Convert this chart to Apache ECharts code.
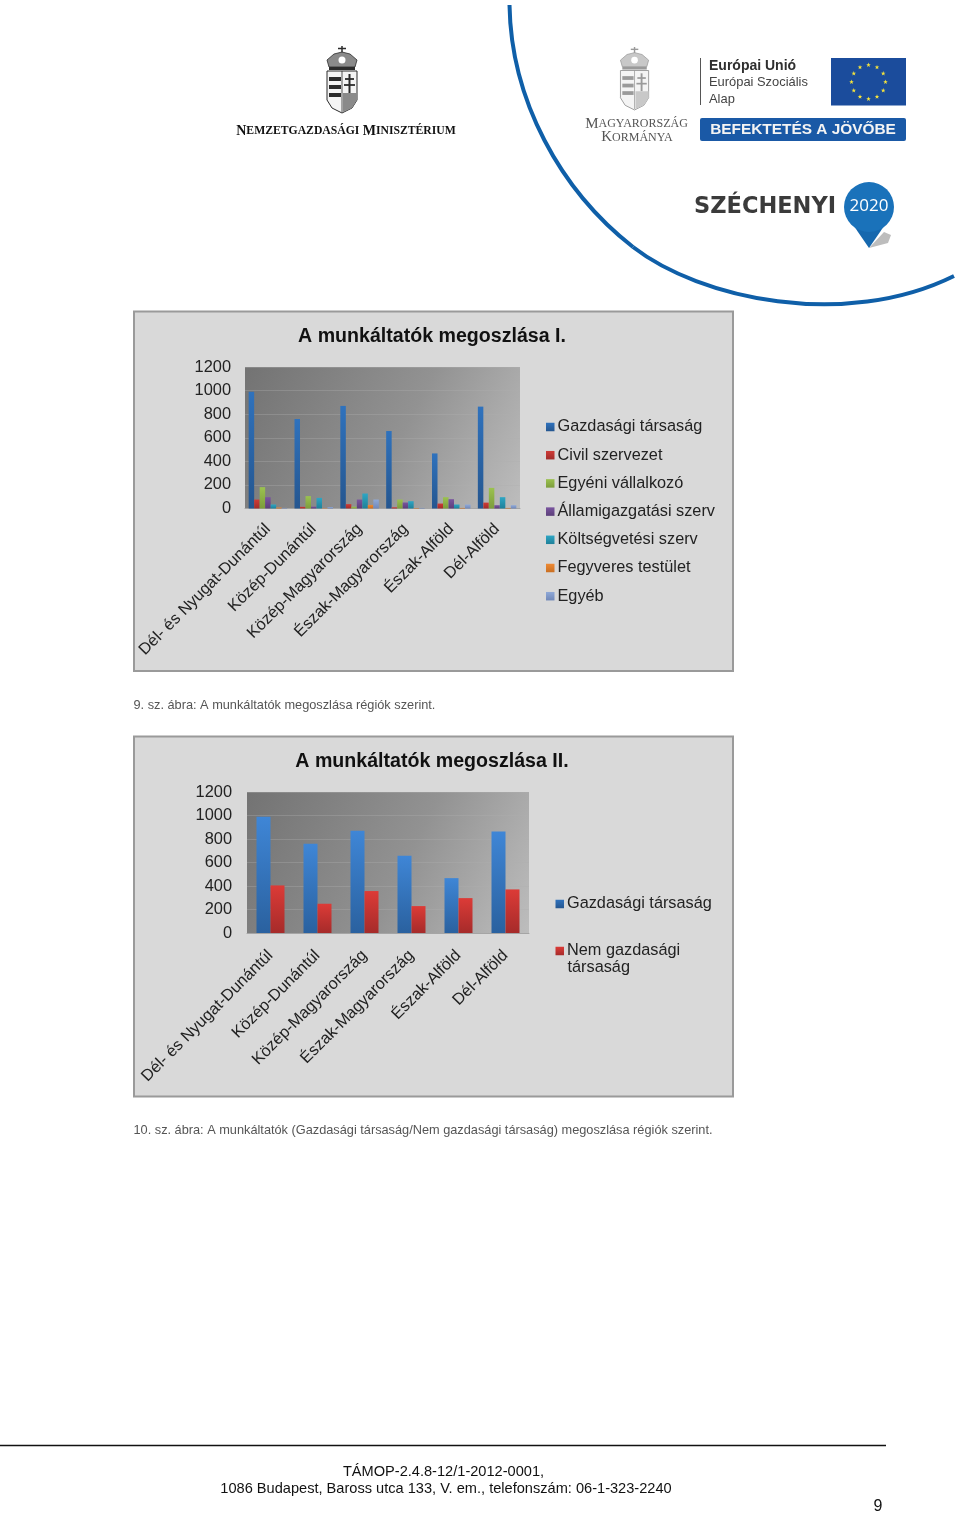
<!DOCTYPE html>
<html>
<head>
<meta charset="utf-8">
<title>A munkáltatók megoszlása</title>
<script src="https://cdn.jsdelivr.net/npm/echarts@6/dist/echarts.min.js"></script>
<style>
  html, body { margin: 0; padding: 0; background: #fff; }
  #main { width: 960px; height: 1514px; }
</style>
</head>
<body>
<div id="main"></div>
<script>
const regions = ["Dél- és Nyugat-Dunántúl", "Közép-Dunántúl", "Közép-Magyarország", "Észak-Magyarország", "Észak-Alföld", "Dél-Alföld"];
const yTicks = [0, 200, 400, 600, 800, 1000, 1200];

// első ábra
const gazdasagi = [990, 759, 870, 657, 467, 864];
const civil = [76, 14, 37, 10, 42, 50];
const egyeni = [181, 105, 15, 76, 96, 175];
const allami = [96, 16, 76, 51, 79, 28];
const koltsegvetesi = [34, 90, 127, 62, 34, 96];
const fegyveres = [8, 3, 30, 4, 5, 5];
const egyeb = [5, 12, 76, 5, 34, 28];

// második ábra
const nemGazdasagi = [405, 249, 357, 229, 297, 371];

const firstNames = ["Gazdasági társaság", "Civil szervezet", "Egyéni vállalkozó", "Államigazgatási szerv", "Költségvetési szerv", "Fegyveres testület", "Egyéb"];
const firstValues = [gazdasagi, civil, egyeni, allami, koltsegvetesi, fegyveres, egyeb];
const firstColors = [["#2f72bd", "#25568f"], ["#cf3a36", "#a02c2a"], ["#9bc24f", "#7c9c3c"], ["#7a559f", "#5c3f7a"], ["#2ea6c4", "#1f8099"], ["#ee8a34", "#c96f22"], ["#8fa9d8", "#7188b8"]];
const secondNames = ["Gazdasági társaság", "Nem gazdasági társaság"];
const secondValues = [gazdasagi, nemGazdasagi];
const secondColors = [["#3f86d6", "#2a619f"], ["#dc3b37", "#a62b2a"]];

const FONT = '"Liberation Sans", Arial, sans-serif';
const SERIF = '"Liberation Serif", serif';
const G = echarts.graphic;

function vgrad(c) {
  return new G.LinearGradient(0, 0, 0, 1, [{ offset: 0, color: c[0] }, { offset: 1, color: c[1] }]);
}
function plotBg() {
  return new G.LinearGradient(0, 0, 1, 1, [{ offset: 0, color: "#737373" }, { offset: 0.55, color: "#929292" }, { offset: 1, color: "#bdbdbd" }]);
}
function txt(x, y, text, size, color, extra) {
  return {
    type: "text", x: x, y: y, z: 5,
    style: Object.assign({ text: text, font: size + "px " + FONT, fill: color, textVerticalAlign: "middle" }, extra || {})
  };
}
function xAxis(gridIndex, margin) {
  return {
    type: "category", gridIndex: gridIndex, data: regions,
    axisTick: { show: false },
    axisLine: { lineStyle: { color: "#a5a5a5" } },
    axisLabel: { rotate: 45, interval: 0, margin: margin, fontFamily: FONT, fontSize: 16.3, color: "#222" }
  };
}
function yAxis(gridIndex, margin) {
  return {
    type: "value", gridIndex: gridIndex, min: yTicks[0], max: yTicks[yTicks.length - 1], interval: yTicks[1],
    axisLine: { show: false }, axisTick: { show: false },
    axisLabel: { margin: margin, fontFamily: FONT, fontSize: 16.4, color: "#222", formatter: function (v) { return String(v); } },
    splitLine: { lineStyle: { color: "rgba(175,175,175,0.35)" } }
  };
}
function legend(names, left, top, gap) {
  return {
    data: names, orient: "vertical", left: left, top: top, itemGap: gap, padding: 0,
    itemWidth: 8.5, itemHeight: 8.5, icon: "rect", selectedMode: false,
    formatter: function (n) { return n === "Nem gazdasági társaság" ? "Nem gazdasági" : n; },
    textStyle: { fontFamily: FONT, fontSize: 16.3, color: "#222", padding: [0, 0, 0, -2] }
  };
}

// címer, logókhoz
function coat(x, y, s, dark, mid) {
  const stripes = [];
  [31, 39, 47].forEach(function (sy) {
    stripes.push({ type: "rect", shape: { x: 3, y: sy, width: 12, height: 4 }, style: { fill: dark } });
  });
  return {
    type: "group", x: x, y: y, scaleX: s, scaleY: s, z: 5,
    children: [
      { type: "line", shape: { x1: 16, y1: 0, x2: 16, y2: 7 }, style: { stroke: dark, lineWidth: 1.5 } },
      { type: "line", shape: { x1: 12, y1: 2.5, x2: 20, y2: 2.5 }, style: { stroke: dark, lineWidth: 1.5 } },
      { type: "polygon", shape: { points: [[3, 21], [1, 14], [8, 8], [16, 6], [24, 8], [31, 14], [29, 21]] }, style: { fill: mid, stroke: dark, lineWidth: 0.8 } },
      { type: "circle", shape: { cx: 16, cy: 14, r: 3.5 }, style: { fill: "#fff" } },
      { type: "rect", shape: { x: 3, y: 21, width: 26, height: 3 }, style: { fill: dark } },
      { type: "polygon", shape: { points: [[1, 25], [31, 25], [31, 54], [26, 62], [16, 67], [6, 62], [1, 54]] }, style: { fill: "#f4f4f4", stroke: dark, lineWidth: 1 } }
    ].concat(stripes, [
      { type: "line", shape: { x1: 16, y1: 25, x2: 16, y2: 66 }, style: { stroke: dark, lineWidth: 0.8 } },
      { type: "line", shape: { x1: 23.5, y1: 28, x2: 23.5, y2: 47 }, style: { stroke: dark, lineWidth: 2 } },
      { type: "line", shape: { x1: 19, y1: 33, x2: 28, y2: 33 }, style: { stroke: dark, lineWidth: 1.8 } },
      { type: "line", shape: { x1: 18, y1: 39, x2: 29, y2: 39 }, style: { stroke: dark, lineWidth: 1.8 } },
      { type: "polygon", shape: { points: [[17, 47], [31, 47], [31, 54], [26, 62], [17, 66]] }, style: { fill: mid } }
    ])
  };
}
function star(cx, cy, r) {
  const pts = [];
  for (let i = 0; i < 10; i++) {
    const a = -Math.PI / 2 + i * Math.PI / 5;
    const d = i % 2 ? r * 0.42 : r;
    pts.push([cx + d * Math.cos(a), cy + d * Math.sin(a)]);
  }
  return { type: "polygon", z: 6, shape: { points: pts }, style: { fill: "#f4e23c" } };
}
function euStars(cx, cy, R) {
  const out = [];
  for (let i = 0; i < 12; i++) {
    const a = i * Math.PI / 6;
    out.push(star(cx + R * Math.cos(a), cy + R * Math.sin(a), 2.4));
  }
  return out;
}
function panel(y, h) {
  return { type: "rect", z: -10, shape: { x: 134, y: y, width: 599, height: h }, style: { fill: "#d9d9d9", stroke: "#9a9a9a", lineWidth: 2 } };
}

const series = [];
firstNames.forEach(function (name, i) {
  series.push({
    name: name, type: "bar", xAxisIndex: 0, yAxisIndex: 0, data: firstValues[i],
    barWidth: 5.5, barGap: 0, barCategoryGap: "16%",
    itemStyle: { color: vgrad(firstColors[i]) }
  });
});
secondNames.forEach(function (name, i) {
  series.push({
    name: name, type: "bar", xAxisIndex: 1, yAxisIndex: 1, data: secondValues[i],
    barWidth: 14, barGap: 0, barCategoryGap: "40%",
    itemStyle: { color: vgrad(secondColors[i]) }
  });
});

const graphics = [
  panel(311.5, 359.5),
  panel(736.5, 360),

  // fejléc, bal oldal
  coat(326, 46, 1, "#2b2b2b", "#8a8a8a"),
  {
    type: "text", x: 346, y: 131, z: 5,
    style: {
      text: "{a|N}{b|EMZETGAZDASÁGI} {a|M}{b|INISZTÉRIUM}",
      align: "center", verticalAlign: "middle", fill: "#111",
      rich: {
        a: { font: "bold 14px " + SERIF, fill: "#111" },
        b: { font: "bold 11.7px " + SERIF, fill: "#111" }
      }
    }
  },

  // fejléc, jobb oldal
  { type: "bezierCurve", z: 4, shape: { x1: 509.5, y1: 5, cpx1: 511, cpy1: 100, cpx2: 560, cpy2: 190, x2: 633, y2: 247 }, style: { stroke: "#0f5fa8", lineWidth: 4, fill: "none" } },
  { type: "bezierCurve", z: 4, shape: { x1: 633, y1: 247, cpx1: 700, cpy1: 299, cpx2: 845, cpy2: 330, x2: 954, y2: 276 }, style: { stroke: "#0f5fa8", lineWidth: 4, fill: "none" } },
  coat(619.5, 47, 0.94, "#9a9a9a", "#c8c8c8"),
  {
    type: "text", x: 636.5, y: 124, z: 5,
    style: {
      text: "{a|M}{b|AGYARORSZÁG}", align: "center", verticalAlign: "middle", fill: "#555",
      rich: { a: { font: "15px " + SERIF, fill: "#555" }, b: { font: "12px " + SERIF, fill: "#555" } }
    }
  },
  {
    type: "text", x: 637, y: 137.5, z: 5,
    style: {
      text: "{a|K}{b|ORMÁNYA}", align: "center", verticalAlign: "middle", fill: "#555",
      rich: { a: { font: "15px " + SERIF, fill: "#555" }, b: { font: "12px " + SERIF, fill: "#555" } }
    }
  },
  { type: "line", z: 5, shape: { x1: 700.5, y1: 58, x2: 700.5, y2: 105 }, style: { stroke: "#555", lineWidth: 1 } },
  txt(709, 66, "Európai Unió", 14, "#2f2f2f", { font: "bold 14px " + FONT }),
  txt(709, 82.5, "Európai Szociális", 12.9, "#444"),
  txt(709, 99, "Alap", 12.9, "#444"),
  { type: "rect", z: 5, shape: { x: 831, y: 58, width: 75, height: 47.5 }, style: { fill: "#1b4c9c" } }
].concat(euStars(868.5, 82, 17), [
  { type: "rect", z: 5, shape: { x: 700, y: 118, width: 206, height: 23, r: 2 }, style: { fill: "#1a59a6" } },
  txt(803, 130, "BEFEKTETÉS A JÖVŐBE", 15.4, "#f4f4f4", { font: "bold 15.4px " + FONT, align: "center", textAlign: "center" }),
  txt(694, 207, "SZÉCHENYI", 22.5, "#3b3b3b", { font: 'bold 22.5px "DejaVu Sans", sans-serif' }),
  { type: "polygon", z: 4, shape: { points: [[869, 248], [884, 232], [891, 235], [888, 243]] }, style: { fill: "#bdbdbd" } },
  { type: "polygon", z: 5, shape: { points: [[845, 213], [869, 248], [893, 213]] }, style: { fill: "#1668ae" } },
  { type: "circle", z: 5, shape: { cx: 869, cy: 207, r: 25 }, style: { fill: "#1a72ba" } },
  txt(869, 206, "2020", 17, "#fff", { font: '17px "Open Sans", sans-serif', align: "center", textAlign: "center" }),

  // képaláírások
  txt(133.5, 705, "9. sz. ábra: A munkáltatók megoszlása régiók szerint.", 12.75, "#555"),
  txt(133.5, 1130, "10. sz. ábra: A munkáltatók (Gazdasági társaság/Nem gazdasági társaság) megoszlása régiók szerint.", 12.75, "#555"),
  txt(567.5, 968, "társaság", 16.3, "#222"),

  // lábléc
  { type: "line", z: 5, shape: { x1: 0, y1: 1445.5, x2: 886, y2: 1445.5 }, style: { stroke: "#111", lineWidth: 1.5 } },
  txt(443.5, 1471.5, "TÁMOP-2.4.8-12/1-2012-0001,", 14.6, "#111", { align: "center", textAlign: "center" }),
  txt(446, 1488.5, "1086 Budapest, Baross utca 133, V. em., telefonszám: 06-1-323-2240", 14.6, "#111", { align: "center", textAlign: "center" }),
  txt(878, 1506.5, "9", 16, "#111", { align: "center", textAlign: "center" })
]);

const chart = echarts.init(document.getElementById("main"), null, { renderer: "canvas" });
chart.setOption({
  animation: false,
  backgroundColor: "#fff",
  title: [
    { text: "A munkáltatók megoszlása I.", left: 432, top: 327, padding: 0, textAlign: "center", textStyle: { fontFamily: FONT, fontSize: 19.6, fontWeight: "bold", color: "#111" } },
    { text: "A munkáltatók megoszlása II.", left: 432, top: 752, padding: 0, textAlign: "center", textStyle: { fontFamily: FONT, fontSize: 19.6, fontWeight: "bold", color: "#111" } }
  ],
  grid: [
    { left: 245, top: 367, width: 275, height: 141.5, show: true, borderWidth: 0, backgroundColor: plotBg() },
    { left: 247, top: 792, width: 282, height: 141, show: true, borderWidth: 0, backgroundColor: plotBg() }
  ],
  xAxis: [xAxis(0, 18), xAxis(1, 20)],
  yAxis: [yAxis(0, 14), yAxis(1, 15)],
  legend: [
    legend(firstNames, 546, 419, 12.2),
    legend(secondNames, 555.5, 896, 31)
  ],
  graphic: { elements: graphics },
  series: series
});
</script>
</body>
</html>
